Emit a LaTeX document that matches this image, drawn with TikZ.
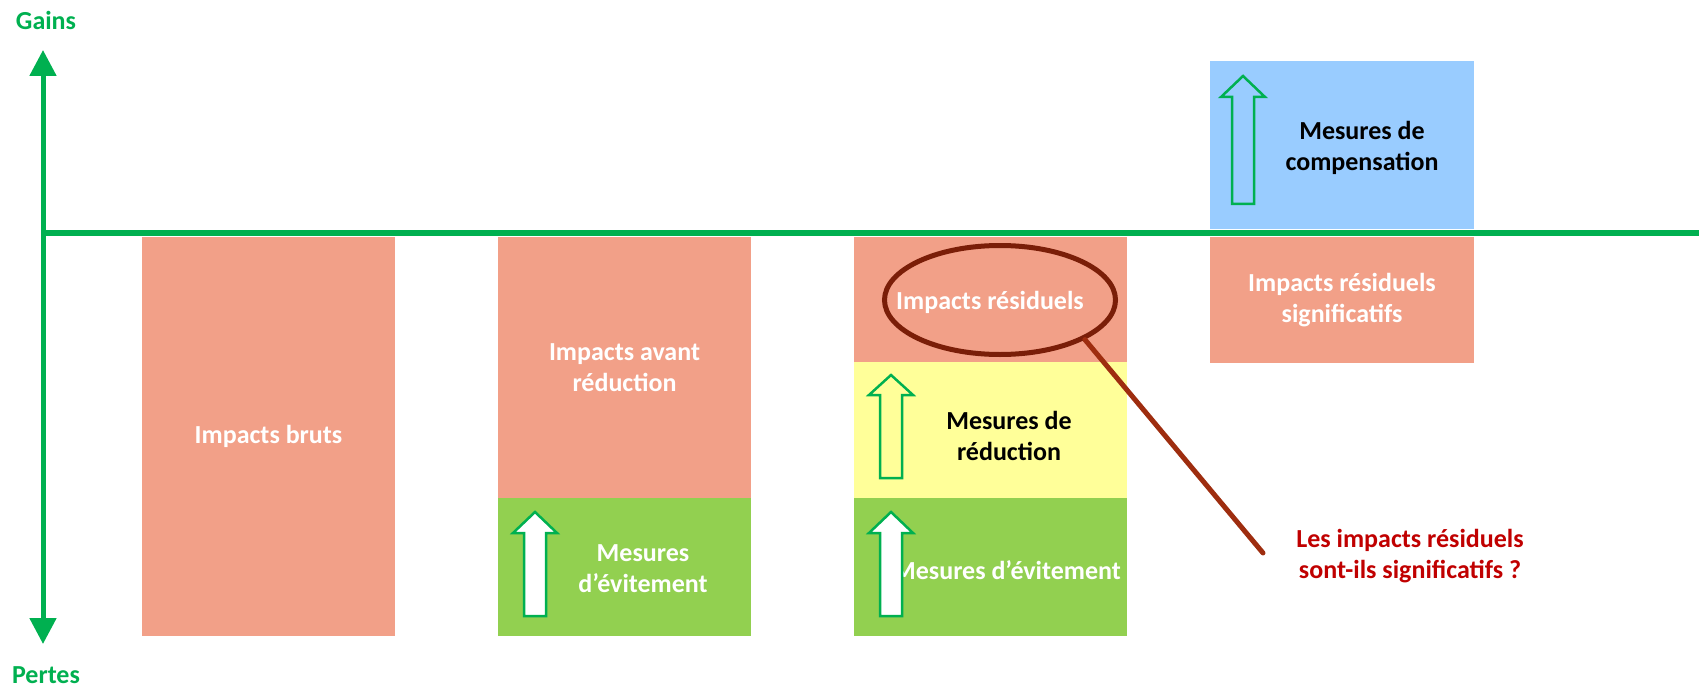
\documentclass[tikz,border=0pt]{standalone}
\usepackage{fontspec}
\setmainfont{Carlito}
\usetikzlibrary{arrows.meta,shapes.geometric}
\definecolor{vertaxe}{HTML}{00B050}
\definecolor{saumon}{HTML}{F2A088}
\definecolor{vertclair}{HTML}{92D050}
\definecolor{jaune}{HTML}{FFFF99}
\definecolor{bleu}{HTML}{99CCFF}
\definecolor{brun}{HTML}{7A1E08}
\definecolor{rouille}{HTML}{9E2D0F}
\definecolor{rouge}{HTML}{C00000}
\tikzset{
  bloc/.style={rectangle, inner sep=0pt, text=white, align=center},
  legende/.style={inner sep=0pt, align=center},
  fleche/.style={draw=vertaxe, line width=2.5pt, line join=miter},
}

\begin{document}
\begin{tikzpicture}[x=1pt,y=-1pt,font=\fontsize{26}{31}\selectfont\bfseries]
    \useasboundingbox (0,0) rectangle (1699,687);
    \node[bloc, fill=saumon, minimum width=253pt, minimum height=399pt] (bruts) at (268.5,436.5) {Impacts bruts};
    \node[bloc, fill=saumon, minimum width=253pt, minimum height=261pt] (avant) at (624.5,367.5) {Impacts avant\\réduction};
    \node[bloc, fill=vertclair, minimum width=253pt, minimum height=138pt] (evit1) at (624.5,567) {};
    \node[bloc, fill=saumon, minimum width=273pt, minimum height=125pt] (resid) at (990.5,299.5) {};
    \node[bloc, fill=jaune, minimum width=273pt, minimum height=136pt] (reduc) at (990.5,430) {};
    \node[bloc, fill=vertclair, minimum width=273pt, minimum height=138pt] (evit2) at (990.5,567) {};
    \node[bloc, fill=bleu, minimum width=264pt, minimum height=168pt] (comp) at (1342,145) {};
    \node[bloc, fill=saumon, minimum width=264pt, minimum height=126pt] (signif) at (1342,300) {Impacts résiduels\\significatifs};
    \node[legende, text=white] (tevit1) at (643,569) {Mesures\\d’évitement};
    \node[legende, text=white] (tresid) at (990,302) {Impacts résiduels};
    \node[legende] (treduc) at (1009,436) {Mesures de\\réduction};
    \node[legende, text=white] (tevit2) at (1007,570) {Mesures d’évitement};
    \node[legende] (tcomp) at (1362,148) {Mesures de\\compensation};
    \draw[vertaxe, line width=5pt, {Triangle[length=26pt,width=26pt]}-{Triangle[length=26pt,width=26pt]}] (43,644) -- (43,50);
    \draw[vertaxe, line width=6pt] (43,233) -- (1699,233);
    \node[text=vertaxe] (gains) at (46,20) {Gains};
    \node[text=vertaxe] (pertes) at (46,675) {Pertes};
    \foreach \xa/\ya/\yb/\yc/\remp in {535/512/533/616/white, 891/375/395/478/none, 891/512/533/616/white, 1243/76/97/204/none}{
      \draw[fleche, fill=\remp] (\xa,\ya) -- ({\xa+22},\yb) -- ({\xa+11},\yb) -- ({\xa+11},\yc) -- ({\xa-11},\yc) -- ({\xa-11},\yb) -- ({\xa-22},\yb) -- cycle;
    }
    \node[ellipse, draw=brun, line width=5pt, inner sep=0pt, minimum width=231pt, minimum height=109pt] (ell) at (1000,300) {};
    \node[legende, text=rouge] (question) at (1410,556) {Les impacts résiduels\\sont-ils significatifs ?};
    \coordinate (bout) at (1263,553);
    \draw[rouille, line width=5pt, line cap=round] (ell.-25) -- (bout);
\end{tikzpicture}
\end{document}
